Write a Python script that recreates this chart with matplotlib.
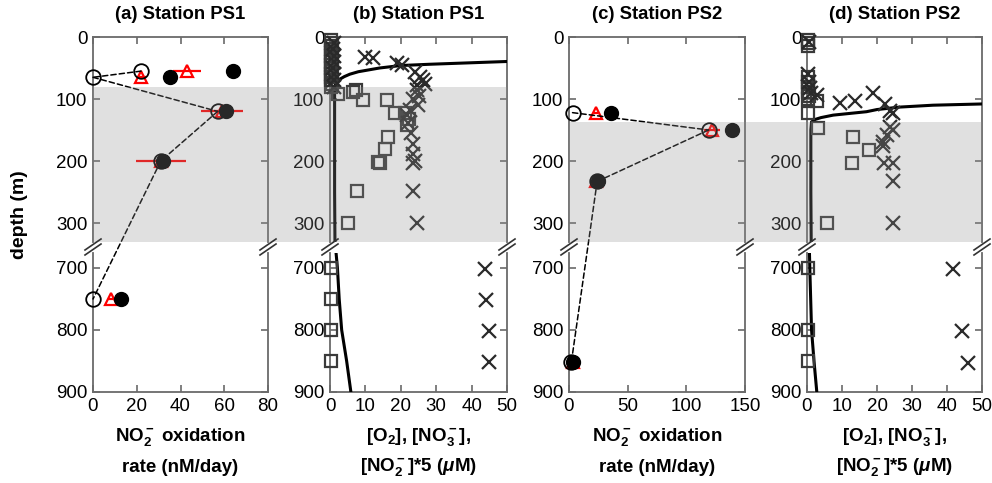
# NO2- oxidation rates and nutrient profiles at stations PS1 / PS2

import numpy as np
import matplotlib
matplotlib.use("Agg")
import matplotlib.pyplot as plt
from matplotlib.patches import Rectangle, ConnectionPatch
from matplotlib.lines import Line2D

plt.rcParams['font.family'] = 'Liberation Sans'
plt.rcParams['mathtext.fontset'] = 'custom'
plt.rcParams['mathtext.rm'] = 'Liberation Sans:bold'
plt.rcParams['mathtext.it'] = 'Liberation Sans:italic:bold'
plt.rcParams['mathtext.bf'] = 'Liberation Sans:bold'

# ---- data ----
# (a) PS1 rates (nM/day)
a_depth = [55, 65, 120, 200, 750]
a_open = [22, 0, 57, 31, 0]
a_tri = [43, 22, 59, 31, 8]
a_tri_err = [6.5, 2, 9.5, 11.5, 1]
a_fill = [64, 35, 61, 32, 13]

# (c) PS2 rates (nM/day)
c_depth = [122, 150, 233, 852]
c_open = [3, 119, 24, 2]
c_tri = [23, 122, 23, 3]
c_tri_err = [2, 7, 4, 3]
c_fill = [36, 139, 25, 3]

# (b) PS1 profiles (uM)
b_o2_depth = [0, 20, 36, 39.5, 44, 46, 50, 53, 56, 60, 64, 68, 72, 76, 80, 90, 150, 250, 330,
              675, 700, 750, 800, 850, 900]
b_o2 = [215, 212, 150, 50, 28, 20, 14, 11, 8, 5.6, 4, 2.8, 2, 1.6, 1.4, 1.3, 1.3, 1.3, 1.4,
        1.7, 2.1, 2.6, 3.3, 4.7, 5.9]
b_no2_depth = [5, 10, 15, 20, 25, 30, 35, 40, 45, 50, 55, 60, 65, 70, 75, 80, 85, 88, 92, 102, 102,
               123, 123, 132, 142, 161, 180, 201, 203, 249, 300, 700, 750, 800, 850]
b_no2 = [0.4, 0.2, 0.5, 0.3, 0.4, 0.2, 0.5, 0.3, 0.4, 0.3, 0.5, 0.2, 0.4, 0.3, 0.5, 0.4, 7.3, 6.6, 2.4, 9.4, 16,
         18.4, 21.2, 22.3, 21.7, 16.5, 15.5, 13.6, 14.2, 7.5, 5.2, 0.3, 0.4, 0.3, 0.3]
b_no3_depth = [10, 20, 30, 40, 50, 60, 70, 80, 32, 34, 42, 45, 56, 64, 69, 75, 77,
               85, 95, 100, 110, 118, 126, 139, 155, 172, 188, 200, 204, 249, 300,
               702, 752, 802, 851]
b_no3 = [1, 0.8, 1.2, 1, 0.9, 1.1, 1, 1.2, 9.9, 12.2, 18.8, 20.3, 24, 25.4, 26.4, 26.9, 24.5,
         24.5, 25, 23.5, 24.8, 22.6, 21.7, 22.1, 23, 23.5, 23.5, 24, 23.5, 23.5, 24.5,
         43.8, 44.1, 45, 45]

# (d) PS2 profiles (uM)
d_o2_depth = [0, 50, 100, 106, 108, 110, 113, 117, 120.5, 126, 130, 133, 137, 150, 250, 330,
              675, 700, 800, 850, 900]
d_o2 = [215, 212, 200, 80, 50, 36, 26.6, 20, 17, 7.5, 4, 2.3, 1.3, 1.1, 1.1, 1.2,
        0.7, 0.8, 1.3, 2.0, 2.8]
d_no2_depth = [5, 10, 15, 65, 72, 80, 88, 95, 100, 104, 123, 147, 161, 182, 203, 300, 700, 800, 850]
d_no2 = [0.3, 0.2, 0.4, 0.3, 0.2, 0.4, 0.3, 0.5, 0.2, 2.8, 0.4, 3, 13.2, 17.8, 12.8, 5.8, 0.2, 0.3, 0.3]
d_no3_depth = [8, 60, 72, 82, 90, 94, 106, 104, 91, 108, 120, 123, 145, 150, 158, 169, 176,
               203, 203, 233, 300, 702, 802, 853]
d_no3 = [0.5, 0.3, 0.6, 0.9, 1.2, 2.8, 9.4, 13.7, 18.9, 22.2, 23.7, 24.7, 23.7, 24.7, 22.8, 21.8, 21.7,
         22.1, 24.6, 24.6, 24.6, 41.8, 44.2, 46.1]

titles = ['(a) Station PS1', '(b) Station PS1', '(c) Station PS2', '(d) Station PS2']
xmaxs = [80, 50, 150, 50]
xtick_steps = [20, 10, 50, 10]
shade_top = [80, 137]   # top of the shaded (low O2) layer at PS1, PS2

# ---- layout in pixels ----
W, H = 992, 483
fig = plt.figure(figsize=(W / 100, H / 100), dpi=100)
lefts = [93, 330, 569, 807]
rights = [268, 507, 745, 982]
up_top, up_bot = 37, 241.6
lo_top, lo_bot = 252.5, 392
UP_MAX, LO_MIN = 330, 675
spine_c = '#6a6a6a'


def box(l, r, t, b):
    return [l / W, 1 - b / H, (r - l) / W, (b - t) / H]


def style(ax, upper, xmax, step):
    ax.set_xlim(0, xmax)
    ax.set_xticks(np.arange(0, xmax + 1, step))
    for s in ax.spines.values():
        s.set_color(spine_c)
        s.set_linewidth(1.3)
    if upper:
        ax.set_ylim(UP_MAX, 0)
        ax.set_yticks([0, 100, 200, 300])
        ax.spines['bottom'].set_visible(False)
        ax.tick_params(axis='x', top=True, bottom=False, labelbottom=False, labeltop=False)
    else:
        ax.set_ylim(900, LO_MIN)
        ax.set_yticks([700, 800, 900])
        ax.spines['top'].set_visible(False)
        ax.tick_params(axis='x', top=False, bottom=True)
    ax.tick_params(axis='y', right=True)
    ax.tick_params(direction='in', length=5, width=1.2, color=spine_c,
                   labelsize=13.5, pad=4)


axes = []
for i in range(4):
    axu = fig.add_axes(box(lefts[i], rights[i], up_top, up_bot))
    axl = fig.add_axes(box(lefts[i], rights[i], lo_top, lo_bot))
    style(axu, True, xmaxs[i], xtick_steps[i])
    style(axl, False, xmaxs[i], xtick_steps[i])
    axu.set_title(titles[i], fontsize=13.3, fontweight='bold', pad=13)
    axes.append((axu, axl))


def split(x, d, upper):
    x, d = np.asarray(x, float), np.asarray(d, float)
    m = d <= UP_MAX if upper else d >= LO_MIN
    return x[m], d[m]


def rate_panel(axu, axl, depth, opn, tri, tri_err, fill):
    for ax, up in ((axu, True), (axl, False)):
        x, d = split(tri, depth, up)
        e, _ = split(tri_err, depth, up)
        ax.errorbar(x, d, xerr=e, fmt='^', mfc='none', mec='red', ecolor='red',
                    ms=9, mew=1.6, elinewidth=1.6, capsize=0, clip_on=False, zorder=3)
        x, d = split(fill, depth, up)
        ax.plot(x, d, 'o', color='k', ms=10, clip_on=False, zorder=4)
        x, d = split(opn, depth, up)
        ax.plot(x, d, 'o', mfc='none', mec='k', ms=10.5, mew=1.3, clip_on=False, zorder=5)
    # dashed line through open circles, drawn straight across the axis break
    for k in range(len(depth) - 1):
        axA = axu if depth[k] <= UP_MAX else axl
        axB = axu if depth[k + 1] <= UP_MAX else axl
        con = ConnectionPatch((opn[k], depth[k]), (opn[k + 1], depth[k + 1]),
                              coordsA=axA.transData, coordsB=axB.transData,
                              color='k', lw=1.1, ls=(0, (3.5, 2)), zorder=3)
        fig.add_artist(con)


def profile_panel(axu, axl, o2d, o2, no2d, no2, no3d, no3):
    for ax, up in ((axu, True), (axl, False)):
        ax.plot(o2, o2d, color='k', lw=2.2, zorder=3)
        x, d = split(no2, no2d, up)
        ax.plot(x, d, 's', mfc='none', mec='#3a3a3a', ms=8.5, mew=1.6, clip_on=False, zorder=4)
        x, d = split(no3, no3d, up)
        ax.plot(x, d, 'x', color='#2a2a2a', ms=10, mew=1.6, clip_on=False, zorder=4)


rate_panel(*axes[0], a_depth, a_open, a_tri, a_tri_err, a_fill)
profile_panel(*axes[1], b_o2_depth, b_o2, b_no2_depth, b_no2, b_no3_depth, b_no3)
rate_panel(*axes[2], c_depth, c_open, c_tri, c_tri_err, c_fill)
profile_panel(*axes[3], d_o2_depth, d_o2, d_no2_depth, d_no2, d_no3_depth, d_no3)

# shaded layer, laid over panels in pairs (a,b) and (c,d)
px_per_m = (up_bot - up_top) / UP_MAX
for j, (l, r) in enumerate([(lefts[0], rights[1]), (lefts[2], rights[3])]):
    t = up_top + shade_top[j] * px_per_m
    fig.add_artist(Rectangle((l / W, 1 - up_bot / H), (r - l) / W, (up_bot - t) / H,
                             transform=fig.transFigure, facecolor='#909090',
                             alpha=0.28, lw=0, zorder=10))

# axis break marks
for i in range(4):
    for xp in (lefts[i], rights[i]):
        for yc in (244.5, 249.5):
            fig.add_artist(Line2D([(xp - 8) / W, (xp + 8) / W],
                                  [1 - (yc + 5.5) / H, 1 - (yc - 5.5) / H],
                                  transform=fig.transFigure, color='#333333',
                                  lw=1.2, zorder=11))

# axis labels
rate_lab = ['NO$_2^-$ oxidation', 'rate (nM/day)']
conc_lab = ['[O$_2$], [NO$_3^-$],', '[NO$_2^-$]*5 ($\\mu$M)']
for i in range(4):
    xc = (lefts[i] + rights[i]) / 2 / W
    lab = rate_lab if i in (0, 2) else conc_lab
    fig.text(xc, 1 - 437 / H, lab[0], ha='center', va='center', fontsize=13.5, fontweight='bold')
    fig.text(xc, 1 - 467 / H, lab[1], ha='center', va='center', fontsize=13.5, fontweight='bold')

fig.text(20 / W, 1 - 215 / H, 'depth (m)', rotation=90, ha='center', va='center',
         fontsize=14, fontweight='bold')

fig.savefig('out.png', dpi=100)
